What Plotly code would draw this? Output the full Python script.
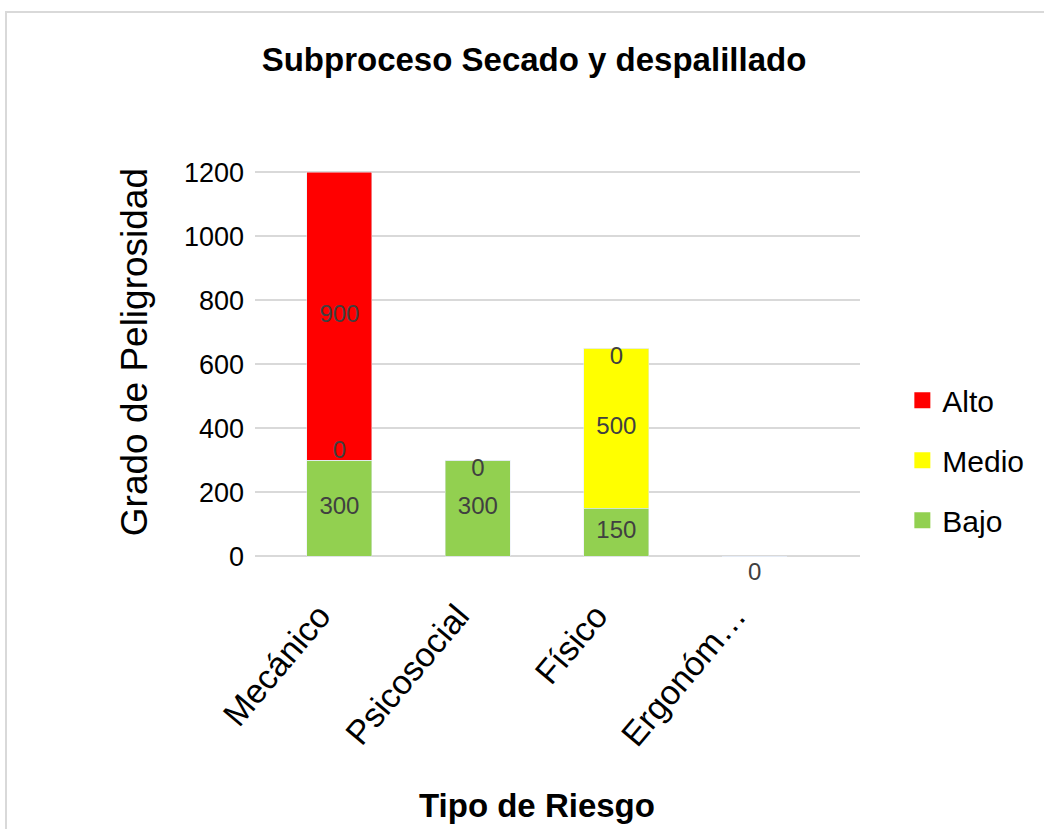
import plotly.graph_objects as go

categories = ["Mecánico", "Psicosocial", "Físico", "Ergonóm…"]
bajo = [300, 300, 150, 0]
medio = [0, 0, 500, 0]
alto = [900, 0, 0, 0]
y_ticks = [0, 200, 400, 600, 800, 1000, 1200]

green = "#92D050"
yellow = "#FFFF00"
red = "#FF0000"
font = "Liberation Sans, Arial, sans-serif"

fig = go.Figure()
series = [("Bajo", bajo, green), ("Medio", medio, yellow), ("Alto", alto, red)]
for name, vals, col in series:
    fig.add_bar(x=categories, y=vals, name=name, marker_color=col, width=0.47,
                showlegend=False)

# legend entries with larger square swatches (Alto on top)
for rank, (name, vals, col) in enumerate(reversed(series)):
    fig.add_scatter(x=[None], y=[None], mode="markers", name=name, legendgroup="lg_" + name,
                    legendrank=rank + 1,
                    marker=dict(symbol="square", size=16, color=col))

# data labels
lab_x, lab_y, lab_t = [], [], []
for i, c in enumerate(categories):
    b, m, a = bajo[i], medio[i], alto[i]
    if b > 0:
        lab_x.append(c); lab_y.append(b / 2); lab_t.append(str(b))
    if m > 0:
        lab_x.append(c); lab_y.append(b + m / 2); lab_t.append(str(m))
    elif a > 0:
        lab_x.append(c); lab_y.append(b + 25); lab_t.append(str(m))
    if a > 0:
        lab_x.append(c); lab_y.append(b + m + a / 2); lab_t.append(str(a))
    else:
        lab_x.append(c); lab_y.append(b + m - 30 if b + m > 0 else -55); lab_t.append(str(a))

fig.add_scatter(x=lab_x, y=lab_y, text=lab_t, mode="text", showlegend=False,
                textfont=dict(family=font, size=24, color="#404040"), hoverinfo="skip")

fig.update_layout(
    barmode="stack",
    width=1044, height=829,
    paper_bgcolor="white", plot_bgcolor="white",
    margin=dict(l=255, r=184, t=169, b=247),
    title=dict(text="<b>Subproceso Secado y despalillado</b>", x=0.5115, xanchor="center",
               y=0.928, yanchor="middle", font=dict(family=font, size=33, color="black")),
    legend=dict(traceorder="grouped", tracegroupgap=18, x=1.07, y=0.295,
                xanchor="left", yanchor="middle", bgcolor="rgba(0,0,0,0)",
                font=dict(family=font, size=30, color="black")),
    xaxis=dict(tickangle=-50, tickfont=dict(family=font, size=34, color="black"),
               range=[-0.61, 3.76], showline=False, showgrid=False,
               ticklabelshift=-20, ticklabelstandoff=6),
    yaxis=dict(range=[-80, 1210], tickvals=y_ticks, tickfont=dict(family=font, size=27, color="black"),
               gridcolor="#D9D9D9", gridwidth=2, zeroline=False, ticklabelstandoff=10),
    annotations=[
        dict(text="<b>Tipo de Riesgo</b>", xref="paper", yref="paper", x=0.466, y=-0.54,
             xanchor="center", yanchor="middle", showarrow=False,
             font=dict(family=font, size=33, color="black")),
        dict(text="Grado de Peligrosidad", xref="paper", yref="paper", x=-0.198, y=0.557,
             xanchor="center", yanchor="middle", textangle=-90, showarrow=False,
             font=dict(family=font, size=37, color="black")),
    ],
    shapes=[dict(type="rect", xref="paper", yref="paper", x0=-0.4116, x1=1.45, y0=-0.75, y1=1.38,
                 layer="below", line=dict(color="#D9D9D9", width=2))],
)

fig.write_html("out.html")
